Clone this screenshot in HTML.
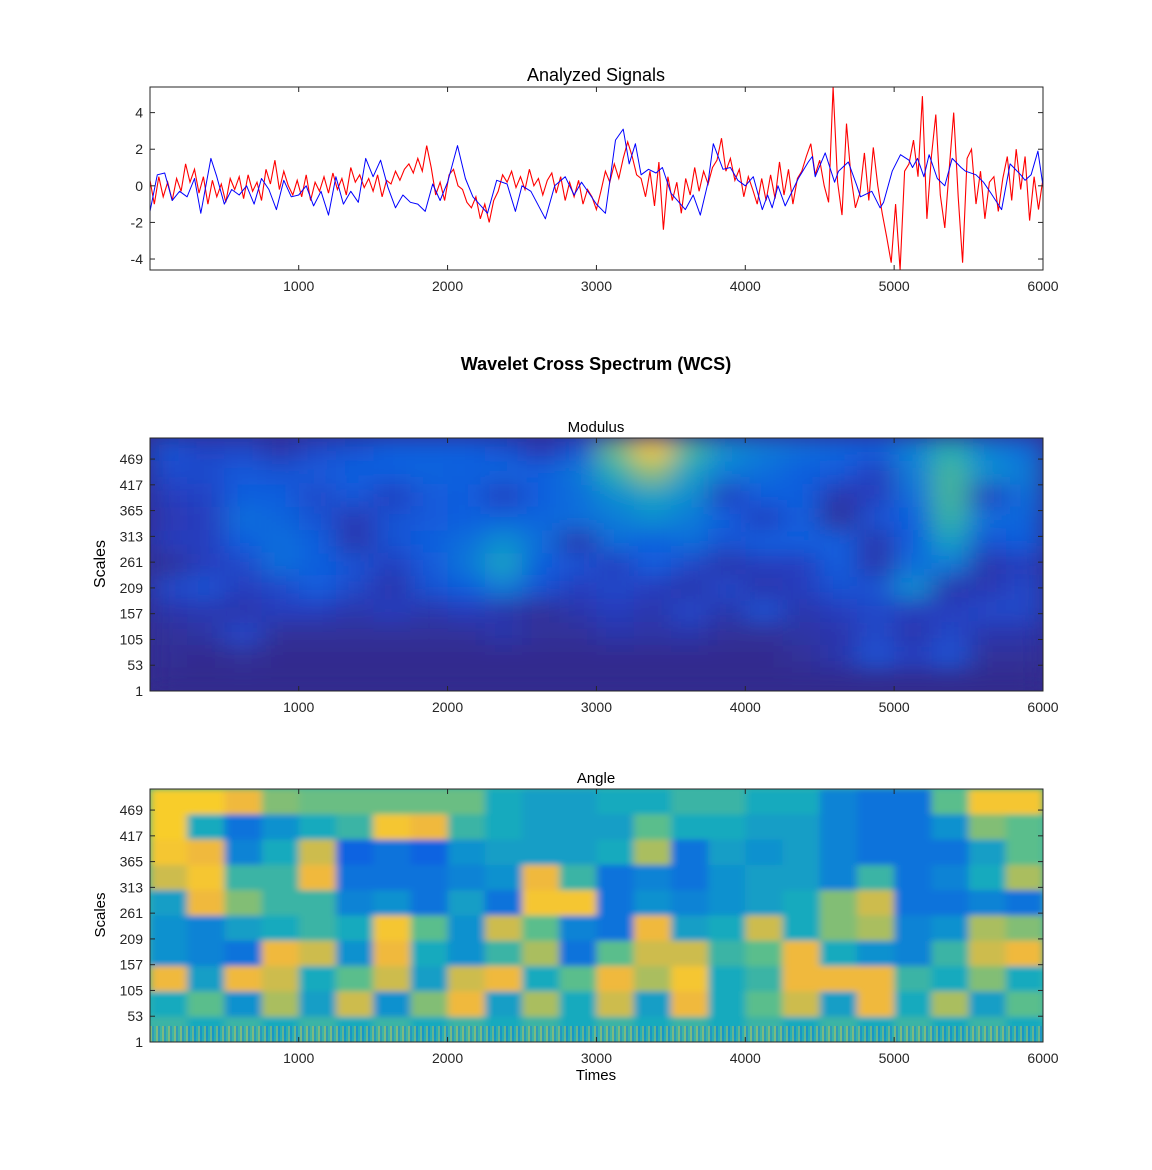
<!DOCTYPE html>
<html><head><meta charset="utf-8">
<style>
html,body{margin:0;padding:0;background:#fff;}
svg{display:block;font-family:"Liberation Sans",Arial,sans-serif;}
</style></head>
<body>
<svg id="fig" width="1152" height="1170" viewBox="0 0 1152 1170" xmlns="http://www.w3.org/2000/svg">
<defs>
<filter id="blurM" x="0" y="0" width="1" height="1"><feGaussianBlur stdDeviation="14 11" edgeMode="duplicate"/></filter>
<filter id="blurA" x="0" y="0" width="1" height="1"><feGaussianBlur stdDeviation="4 3" edgeMode="duplicate"/></filter>
<clipPath id="clipS"><rect x="150" y="87" width="893" height="183"/></clipPath>
<clipPath id="clipM"><rect x="150" y="438" width="893" height="253"/></clipPath>
<clipPath id="clipA"><rect x="150" y="789" width="893" height="253"/></clipPath>
<pattern id="noise" width="6" height="4" patternUnits="userSpaceOnUse">
<rect width="2" height="4" fill="#f4c63a"/><rect x="2" width="2" height="4" fill="#1f6fd6"/><rect x="4" width="2" height="4" fill="#3fb7a8"/>
</pattern>
</defs>
<text x="596" y="81" font-size="18" text-anchor="middle">Analyzed Signals</text>
<text x="596" y="370" font-size="18" font-weight="bold" text-anchor="middle">Wavelet Cross Spectrum (WCS)</text>
<text x="596" y="432" font-size="15" text-anchor="middle">Modulus</text>
<text x="596" y="783" font-size="15" text-anchor="middle">Angle</text>
<text x="596" y="1080" font-size="15" text-anchor="middle">Times</text>
<text transform="translate(105,564) rotate(-90)" font-size="16" text-anchor="middle">Scales</text>
<text transform="translate(105,915) rotate(-90)" font-size="15" text-anchor="middle">Scales</text>
<g id="sig"></g>
<g id="mod"></g>
<g id="ang"></g>
</svg>
<script>
// ---- data ----
const blueT=[0,50,100,150,200,250,300,342,410,450,500,550,600,650,700,750,800,850,900,950,1000,1050,1100,1150,1200,1250,1300,1350,1400,1450,1500,1550,1600,1650,1700,1750,1800,1850,1900,1950,2000,2067,2120,2170,2268,2330,2400,2456,2500,2560,2657,2720,2790,2850,2900,2950,3000,3060,3128,3180,3220,3262,3300,3350,3400,3443,3500,3597,3650,3698,3750,3785,3850,3900,3950,4000,4054,4114,4150,4181,4220,4268,4356,4423,4450,4470,4537,4600,4626,4692,4750,4774,4850,4906,4929,4987,5043,5100,5123,5157,5200,5235,5290,5340,5390,5450,5480,5550,5600,5650,5722,5779,5850,5880,5920,5966,6000];
const blueV=[-1.4,0.6,0.7,-0.8,-0.3,-0.6,0.4,-1.5,1.5,0.5,-1.0,-0.2,-0.5,0.0,-1.0,0.4,-0.2,-1.3,0.3,-0.6,-0.5,0.0,-1.1,-0.3,-1.6,0.5,-1.0,-0.3,-0.9,1.5,0.5,1.4,-0.1,-1.2,-0.5,-0.9,-1.0,-1.4,0.1,-0.8,0.2,2.2,0.4,-0.6,-1.5,0.3,0.1,-1.4,0.0,-0.3,-1.8,0.0,0.5,-0.5,0.2,-0.4,-1.0,-1.5,2.5,3.1,1.2,2.3,0.6,0.9,0.7,1.0,-0.4,-1.3,-0.5,-1.6,0.2,2.3,0.9,1.0,0.3,0.0,0.5,-1.3,-0.5,-1.2,0.0,-1.1,0.4,1.3,1.6,0.5,1.8,0.2,0.8,1.3,0.0,-0.6,-0.3,-1.2,-0.9,0.8,1.7,1.4,1.0,1.5,0.5,1.7,0.4,0.0,1.5,1.0,0.8,0.6,0.2,-0.4,-1.3,1.2,0.6,0.3,0.6,1.9,0.0];
const redStep=30;
const redV=[0.3,-1.0,0.5,-0.6,0.2,-0.8,0.4,-0.3,1.2,0.2,
0.9,-0.4,0.5,-1.0,0.3,-0.6,0.1,-0.9,0.4,-0.2,
0.5,-0.7,0.6,-0.3,0.2,-0.8,0.9,0.1,1.4,-0.2,
0.8,0.0,-0.5,0.3,-0.6,0.6,-0.8,0.2,-0.3,0.5,
-0.4,0.7,-0.2,0.4,-0.5,1.0,0.2,0.6,-0.1,0.4,
-0.3,0.6,-0.6,0.3,0.1,0.8,0.3,0.9,1.2,0.7,
1.5,0.8,2.2,1.0,-0.5,0.2,-0.8,0.6,0.9,0.0,
-0.2,-0.9,-1.2,-0.6,-1.8,-1.0,-2.0,-0.8,-0.3,0.6,
0.2,0.8,-0.1,0.5,-0.2,0.9,0.0,0.4,-0.5,0.3,
0.7,-0.4,0.5,-0.8,0.2,-0.6,0.3,-1.0,-0.2,-0.6,
-1.3,-0.3,0.8,0.2,1.2,0.4,1.5,2.4,1.6,0.6,
0.4,-0.6,0.8,-1.1,1.3,-2.4,0.5,-0.8,0.2,-1.5,
0.4,-0.5,1.0,-0.3,0.8,0.1,1.0,1.4,2.6,0.8,
1.5,0.3,0.9,-0.6,0.5,-0.2,-1.0,0.4,-0.8,0.6,
-0.7,1.3,-0.5,0.9,-1.0,0.4,0.8,1.6,2.3,0.6,
1.4,0.0,-0.9,5.4,0.2,-1.6,3.4,0.5,-1.2,-0.4,
1.8,-0.8,2.1,0.0,-1.5,-2.8,-4.2,-1.0,-4.6,0.8,
1.2,2.5,0.5,4.9,-1.8,1.6,3.9,-0.5,-2.3,0.9,
4.0,-0.6,-4.2,1.5,2.0,-1.0,0.8,-1.8,0.2,0.5,
-1.4,0.4,1.6,-0.8,2.0,-0.2,1.6,-1.9,0.5,-1.3,0.4];
const xTicks=[1000,2000,3000,4000,5000,6000];
const sigYTicks=[-4,-2,0,2,4];
const scaleTicks=[1,53,105,157,209,261,313,365,417,469];
const modGrid=[
[0.25,0.18,0.2,0.1,0.2,0.25,0.3,0.3,0.3,0.25,0.12,0.25,0.65,0.9,0.6,0.45,0.4,0.35,0.32,0.3,0.42,0.55,0.42,0.35],
[0.22,0.22,0.28,0.25,0.28,0.3,0.3,0.32,0.3,0.32,0.3,0.38,0.55,0.7,0.5,0.4,0.35,0.3,0.28,0.15,0.4,0.6,0.45,0.4],
[0.15,0.18,0.3,0.3,0.2,0.28,0.15,0.28,0.3,0.15,0.3,0.35,0.45,0.5,0.45,0.15,0.3,0.3,0.1,0.15,0.35,0.6,0.15,0.35],
[0.12,0.15,0.35,0.32,0.25,0.12,0.25,0.28,0.3,0.32,0.32,0.35,0.4,0.45,0.4,0.3,0.15,0.3,0.05,0.25,0.3,0.58,0.35,0.32],
[0.15,0.15,0.3,0.35,0.3,0.1,0.25,0.3,0.35,0.45,0.35,0.1,0.35,0.3,0.35,0.25,0.3,0.3,0.3,0.1,0.3,0.5,0.25,0.3],
[0.05,0.15,0.2,0.35,0.3,0.25,0.15,0.28,0.38,0.5,0.3,0.25,0.15,0.3,0.2,0.1,0.15,0.15,0.3,0.1,0.35,0.4,0.1,0.15],
[0.2,0.25,0.15,0.2,0.3,0.2,0.1,0.25,0.3,0.4,0.25,0.15,0.2,0.15,0.1,0.2,0.1,0.15,0.25,0.25,0.45,0.1,0.12,0.2],
[0.1,0.12,0.1,0.15,0.15,0.1,0.15,0.1,0.15,0.1,0.05,0.1,0.15,0.1,0.2,0.1,0.25,0.1,0.15,0.2,0.15,0.15,0.2,0.2],
[0.05,0.08,0.2,0.05,0.05,0.05,0.05,0.05,0.05,0.1,0.05,0.05,0.1,0.08,0.1,0.05,0.05,0.08,0.1,0.2,0.1,0.2,0.1,0.1],
[0.04,0.02,0.05,0.02,0.02,0.02,0.02,0.02,0.02,0.02,0.02,0.02,0.02,0.02,0.02,0.02,0.02,0.05,0.1,0.25,0.15,0.25,0.05,0.05],
[0.02,0.02,0.02,0.02,0.02,0.02,0.02,0.02,0.02,0.02,0.02,0.02,0.02,0.02,0.02,0.02,0.02,0.02,0.02,0.02,0.02,0.02,0.02,0.02]];
const angGrid=[
[0.88,0.88,0.8,0.65,0.62,0.62,0.62,0.62,0.62,0.5,0.45,0.45,0.5,0.5,0.55,0.55,0.5,0.5,0.35,0.3,0.3,0.6,0.85,0.85],
[0.88,0.5,0.3,0.4,0.5,0.55,0.85,0.8,0.55,0.5,0.45,0.45,0.45,0.6,0.5,0.5,0.45,0.45,0.35,0.3,0.3,0.4,0.65,0.6],
[0.85,0.8,0.35,0.5,0.75,0.25,0.3,0.25,0.4,0.45,0.45,0.45,0.5,0.7,0.3,0.45,0.4,0.45,0.35,0.3,0.3,0.3,0.45,0.6],
[0.75,0.85,0.55,0.55,0.8,0.3,0.3,0.3,0.35,0.4,0.8,0.55,0.3,0.35,0.3,0.4,0.45,0.45,0.35,0.55,0.3,0.35,0.5,0.7],
[0.45,0.8,0.65,0.55,0.55,0.35,0.4,0.3,0.45,0.3,0.85,0.85,0.3,0.4,0.35,0.4,0.45,0.5,0.65,0.75,0.3,0.3,0.35,0.3],
[0.4,0.35,0.45,0.5,0.55,0.5,0.85,0.6,0.4,0.75,0.6,0.35,0.3,0.8,0.45,0.5,0.75,0.5,0.65,0.7,0.35,0.4,0.7,0.65],
[0.4,0.35,0.3,0.8,0.75,0.4,0.8,0.5,0.4,0.55,0.7,0.3,0.6,0.75,0.75,0.55,0.6,0.8,0.5,0.4,0.35,0.55,0.75,0.8],
[0.8,0.45,0.8,0.75,0.5,0.6,0.75,0.45,0.75,0.8,0.5,0.6,0.8,0.7,0.85,0.5,0.55,0.8,0.8,0.8,0.55,0.5,0.65,0.5],
[0.5,0.6,0.4,0.7,0.45,0.75,0.4,0.65,0.8,0.45,0.7,0.5,0.75,0.45,0.8,0.5,0.6,0.75,0.45,0.8,0.5,0.7,0.45,0.6],
[0.55,0.5,0.55,0.5,0.55,0.5,0.55,0.5,0.55,0.5,0.55,0.5,0.55,0.5,0.55,0.5,0.55,0.5,0.55,0.5,0.55,0.5,0.55,0.5]];

// ---- helpers ----
const NS='http://www.w3.org/2000/svg';
function mk(tag,attrs,parent){const e=document.createElementNS(NS,tag);for(const k in attrs)e.setAttribute(k,attrs[k]);parent.appendChild(e);return e;}
const L=150,R=1043;
const xScale=t=>L+(t-1)/(6000-1)*(R-L);
const stopsM=[[0,[53,42,135]],[0.15,[40,60,190]],[0.3,[15,95,222]],[0.42,[10,130,215]],[0.52,[20,170,190]],[0.62,[80,185,145]],[0.72,[160,190,100]],[0.82,[230,185,65]],[0.92,[252,205,45]],[1,[249,240,25]]];
const stopsA=[[0,[53,42,135]],[0.12,[30,65,200]],[0.25,[15,100,225]],[0.38,[15,140,210]],[0.5,[25,170,190]],[0.6,[90,190,140]],[0.7,[170,190,95]],[0.8,[240,185,60]],[0.9,[250,210,40]],[1,[249,245,20]]];
function cmap(stops,v){v=Math.max(0,Math.min(1,v));for(let i=1;i<stops.length;i++){if(v<=stops[i][0]){const a=stops[i-1],b=stops[i],f=(v-a[0])/(b[0]-a[0]);const c=a[1].map((x,j)=>Math.round(x+(b[1][j]-x)*f));return 'rgb('+c.join(',')+')';}}return 'rgb(249,240,25)';}

function axesFrame(g,top,bot,yTicks,yScale){
  const box=mk('rect',{x:L,y:top,width:R-L,height:bot-top,fill:'none',stroke:'#262626','stroke-width':1},g);
  
  
  xTicks.forEach(t=>{const x=xScale(t);
    mk('line',{x1:x,y1:bot,x2:x,y2:bot-5,stroke:'#262626'},g);
    mk('line',{x1:x,y1:top,x2:x,y2:top+5,stroke:'#262626'},g);
    const tx=mk('text',{x:x,y:bot+21,'font-size':14,'text-anchor':'middle',fill:'#262626'},g);
    tx.textContent=t;
    
    
  });
  yTicks.forEach(v=>{const y=yScale(v);
    mk('line',{x1:L,y1:y,x2:L+5,y2:y,stroke:'#262626'},g);
    mk('line',{x1:R,y1:y,x2:R-5,y2:y,stroke:'#262626'},g);
    const tx=mk('text',{x:L-7,y:y+5,'font-size':14,'text-anchor':'end',fill:'#262626'},g);
    tx.textContent=v;
    
    
  });
}

// ---- signals ----
(function(){
  const g=document.getElementById('sig');
  const top=87,bot=270;
  const yS=v=>bot-(v+4.6)/(5.4+4.6)*(bot-top);
  const cg=mk('g',{'clip-path':'url(#clipS)'},g);
  let d='';redV.forEach((v,i)=>{const t=Math.max(1,i*redStep);d+=(i?'L':'M')+xScale(t).toFixed(1)+','+yS(v).toFixed(1);});
  const red=mk('path',{d:d,fill:'none',stroke:'#ff0000','stroke-width':1.1},cg);
  
  
  d='';blueT.forEach((t,i)=>{d+=(i?'L':'M')+xScale(Math.max(1,t)).toFixed(1)+','+yS(blueV[i]).toFixed(1);});
  const blue=mk('path',{d:d,fill:'none',stroke:'#0000ff','stroke-width':1,'stroke-linejoin':'round'},cg);
  
  
  axesFrame(g,top,bot,sigYTicks,yS);
})();

// ---- heatmaps ----
function heat(id,grid,top,filt,clip,stops,name,noise){
  const g=document.getElementById(id);
  const bot=top+253;
  const yS=s=>bot-(s-1)/(511.5-1)*(bot-top);
  const cg=mk('g',{'clip-path':'url(#'+clip+')'},g);
  mk('rect',{x:L,y:top,width:R-L,height:bot-top,fill:cmap(stops,grid[grid.length-1][0])},cg);
  const hg=mk('g',{filter:'url(#'+filt+')'},cg);
  const rows=grid.length,cols=grid[0].length;
  const cw=(R-L)/cols,rh=(bot-top)/rows;
  grid.forEach((row,r)=>row.forEach((v,c)=>{
    const cell=mk('rect',{x:(L+c*cw).toFixed(2),y:(top+r*rh).toFixed(2),width:(cw+0.6).toFixed(2),height:(rh+0.6).toFixed(2),fill:cmap(stops,v)},hg);
    
    
  }));
  if(noise){const n=mk('rect',{x:L,y:bot-16,width:R-L,height:16,fill:'url(#noise)',opacity:0.35},cg);
    
    }
  axesFrame(g,top,bot,scaleTicks,yS);
}
heat('mod',modGrid,438,'blurM','clipM',stopsM,'modulus',false);
heat('ang',angGrid,789,'blurA','clipA',stopsA,'angle',true);
</script>
</body></html>
